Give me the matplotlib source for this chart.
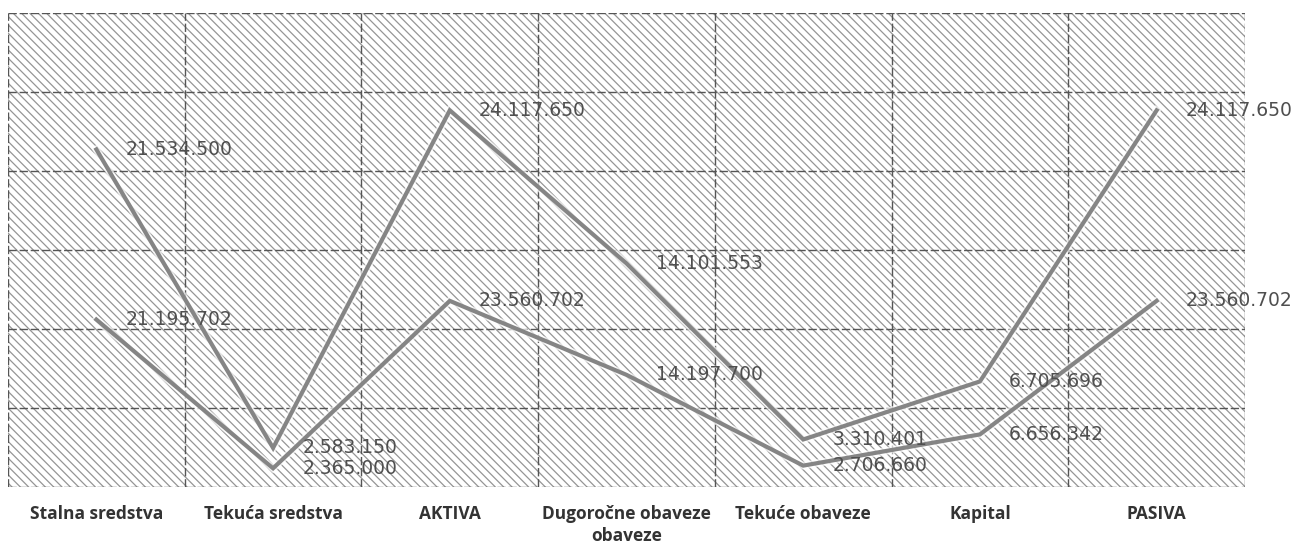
import numpy as np
import matplotlib
matplotlib.use('Agg')
import matplotlib.pyplot as plt
import matplotlib.patheffects as pe
from matplotlib.patches import Rectangle

# kategorije i vrijednosti (naslagani linijski grafikon)
kategorije = ['Stalna sredstva', 'Tekuća sredstva', 'AKTIVA', 'Dugoročne obaveze\nobaveze',
              'Tekuće obaveze', 'Kapital', 'PASIVA']
serija_1 = [21195702, 2365000, 23560702, 14197700, 2706660, 6656342, 23560702]
serija_2 = [21534500, 2583150, 24117650, 14101553, 3310401, 6705696, 24117650]


def fmt(v):
    return f"{v:,}".replace(',', '.')


plt.rcParams['hatch.linewidth'] = 0.9

fig = plt.figure(figsize=(12.97, 5.48), dpi=100)
ax = fig.add_axes([8 / 1297, 61 / 548, 1237 / 1297, 474 / 548])

x = np.arange(len(kategorije))
s1 = np.array(serija_1)
s2 = s1 + np.array(serija_2)

ax.set_xlim(-0.5, len(kategorije) - 0.5)
ax.set_ylim(0, 60e6)

# pozadina s kosim srafiranjem
ax.add_patch(Rectangle((0, 0), 1, 1, transform=ax.transAxes, facecolor='white',
                       edgecolor='#959595', linewidth=0, hatch='\\\\\\\\', zorder=0))

# mreza
for yv in np.arange(0, 60e6 + 1, 10e6):
    ax.axhline(yv, color='#555555', lw=1.0, ls=(0, (6, 2)), zorder=1)
for xv in np.arange(-0.5, len(kategorije), 1.0):
    ax.axvline(xv, color='#555555', lw=1.0, ls=(0, (6, 2)), zorder=1)

efekt = [pe.Stroke(linewidth=5.5, foreground='white', alpha=0.7), pe.Normal()]
ax.plot(x, s1, color='#858585', lw=3, zorder=3, path_effects=efekt, solid_joinstyle='miter')
ax.plot(x, s2, color='#858585', lw=3, zorder=3, path_effects=efekt, solid_joinstyle='miter')

for xi, yv, v in zip(x, s1, serija_1):
    ax.annotate(fmt(v), (xi, yv), xytext=(21, 0), textcoords='offset points',
                ha='left', va='center', fontsize=13.5, color='#4f4f4f', zorder=4)
for xi, yv, v in zip(x, s2, serija_2):
    ax.annotate(fmt(v), (xi, yv), xytext=(21, 0), textcoords='offset points',
                ha='left', va='center', fontsize=13.5, color='#4f4f4f', zorder=4)

ax.set_xticks(x)
ax.set_xticklabels(kategorije, fontsize=12.5, fontweight='bold', color='#333333',
                   family='Open Sans', linespacing=1.25)
ax.tick_params(axis='x', length=0, pad=13)
ax.set_yticks([])
for s in ax.spines.values():
    s.set_visible(False)

fig.savefig('out.png', dpi=100)
